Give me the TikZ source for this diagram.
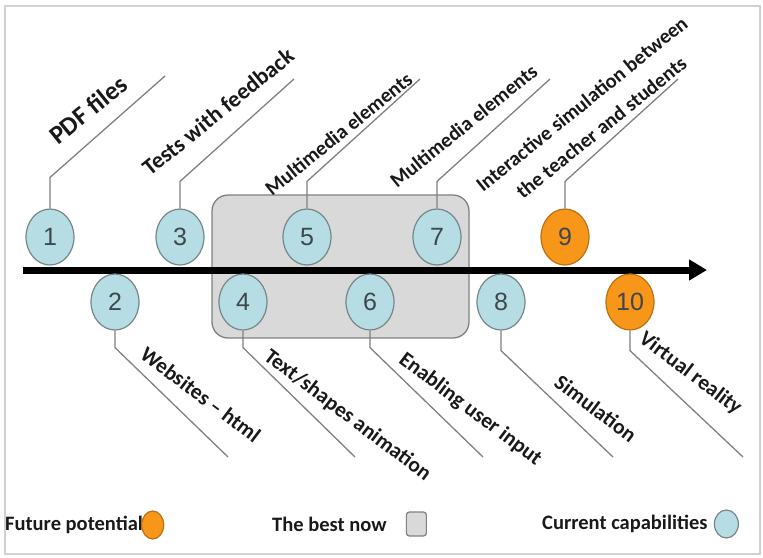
\documentclass[tikz,border=0pt]{standalone}
\usepackage{fontspec}
\setmainfont{Carlito}
\newfontfamily\numfont{Liberation Sans}
\usetikzlibrary{arrows.meta,shapes.geometric,positioning}
\definecolor{nowcol}{RGB}{217,217,217}
\definecolor{curcol}{RGB}{183,221,228}
\definecolor{futcol}{RGB}{247,150,24}
\definecolor{rimcol}{RGB}{118,134,137}
\definecolor{leadcol}{RGB}{128,128,128}
\definecolor{digitcol}{RGB}{60,72,76}

\begin{document}
\begin{tikzpicture}[x=1pt, y=-1pt,
    stage/.style={ellipse, draw=rimcol, line width=1.2pt, minimum width=48pt, minimum height=56pt,
        inner sep=0pt, font=\numfont\fontsize{25}{25}\selectfont, text=digitcol},
    current/.style={stage, fill=curcol},
    future/.style={stage, fill=futcol, draw=futcol!75!black},
    leader/.style={draw=leadcol, line width=1.3pt},
    lbl/.style={font=\bfseries\fontsize{21.5}{24}\selectfont, inner sep=0pt, text=black!90},
    up/.style={lbl, font=\bfseries\fontsize{20.5}{24}\selectfont, rotate=39, anchor=base west},
    down/.style={lbl, rotate=-37, anchor=north west},
    key/.style={font=\bfseries\fontsize{20.5}{20}\selectfont, inner sep=0pt, text=black!90},
]
\useasboundingbox (0,0) rectangle (763,557);
\draw[black!18, line width=1.2pt] (5,6) rectangle (760,554);

\node[draw=leadcol, fill=nowcol, line width=1.3pt, rounded corners=16pt,
    minimum width=257pt, minimum height=143pt] (best) at (340.5,266.5) {};

\coordinate (t0) at (23,270);
\coordinate (t1) at (707,270);
\draw[line width=7pt, -{Triangle[length=18pt,width=20pt]}] (t0) -- (t1);

\node[current] (c1)  at (50,237)  {1};
\node[current] (c2)  at (115,302) {2};
\node[current] (c3)  at (180,237) {3};
\node[current] (c4)  at (243,302) {4};
\node[current] (c5)  at (307,237) {5};
\node[current] (c6)  at (370,302) {6};
\node[current] (c7)  at (437,237) {7};
\node[current] (c8)  at (501,302) {8};
\node[future]  (c9)  at (565,237) {9};
\node[future]  (c10) at (630,302) {10};

\coordinate (e1)  at (165,76);
\coordinate (e3)  at (294,79);
\coordinate (e5)  at (420,79);
\coordinate (e7)  at (550,79);
\coordinate (e9)  at (678,79);
\coordinate (e2)  at (228,457);
\coordinate (e4)  at (355,457);
\coordinate (e6)  at (483,457);
\coordinate (e8)  at (613,457);
\coordinate (e10) at (743,457);

\draw[leader] (c1.north) -- ++(0,-31) -- (e1);
\draw[leader] (c3.north) -- ++(0,-27) -- (e3);
\draw[leader] (c5.north) -- ++(0,-27) -- (e5);
\draw[leader] (c7.north) -- ++(0,-27) -- (e7);
\draw[leader] (c9.north) -- ++(0,-27) -- (e9);
\draw[leader] (c2.south) -- ++(0,17) -- (e2);
\draw[leader] (c4.south) -- ++(0,17) -- (e4);
\draw[leader] (c6.south) -- ++(0,17) -- (e6);
\draw[leader] (c8.south) -- ++(0,20) -- (e8);
\draw[leader] (c10.south) -- ++(0,20) -- (e10);

\node[up, font=\bfseries\fontsize{26}{28}\selectfont] (l1) at (58,146) {PDF files};
\node[up, font=\bfseries\fontsize{23}{26}\selectfont] (l3) at (150,177) {Tests with feedback};
\node[up] (l5)  at (272,197) {Multimedia elements};
\node[up] (l7)  at (397,189) {Multimedia elements};
\node[up] (l9a) at (483,193) {Interactive simulation between};
\node[up] (l9b) at (523,200) {the teacher and students};
\node[down] (l2)  at (148,345) {Websites -- html};
\node[down] (l4)  at (272,347) {Text/shapes animation};
\node[down] (l6)  at (407,350) {Enabling user input};
\node[down] (l8)  at (562,373) {Simulation};
\node[down] (l10) at (647,329) {Virtual reality};

\node[key, anchor=west] (kf) at (5,525) {Future potential};
\node[future, minimum width=22pt, minimum height=28pt, right=-2pt of kf] (mf) {};
\node[key, anchor=west] (kb) at (272,524) {The best now};
\node[draw=leadcol, fill=nowcol, line width=1.2pt, rounded corners=3pt,
    minimum width=20pt, minimum height=24pt, right=19pt of kb] (mb) {};
\node[key, anchor=west] (kc) at (542,524) {Current capabilities};
\node[current, minimum width=24pt, minimum height=28pt, right=6pt of kc] (mc) {};
\end{tikzpicture}
\end{document}
